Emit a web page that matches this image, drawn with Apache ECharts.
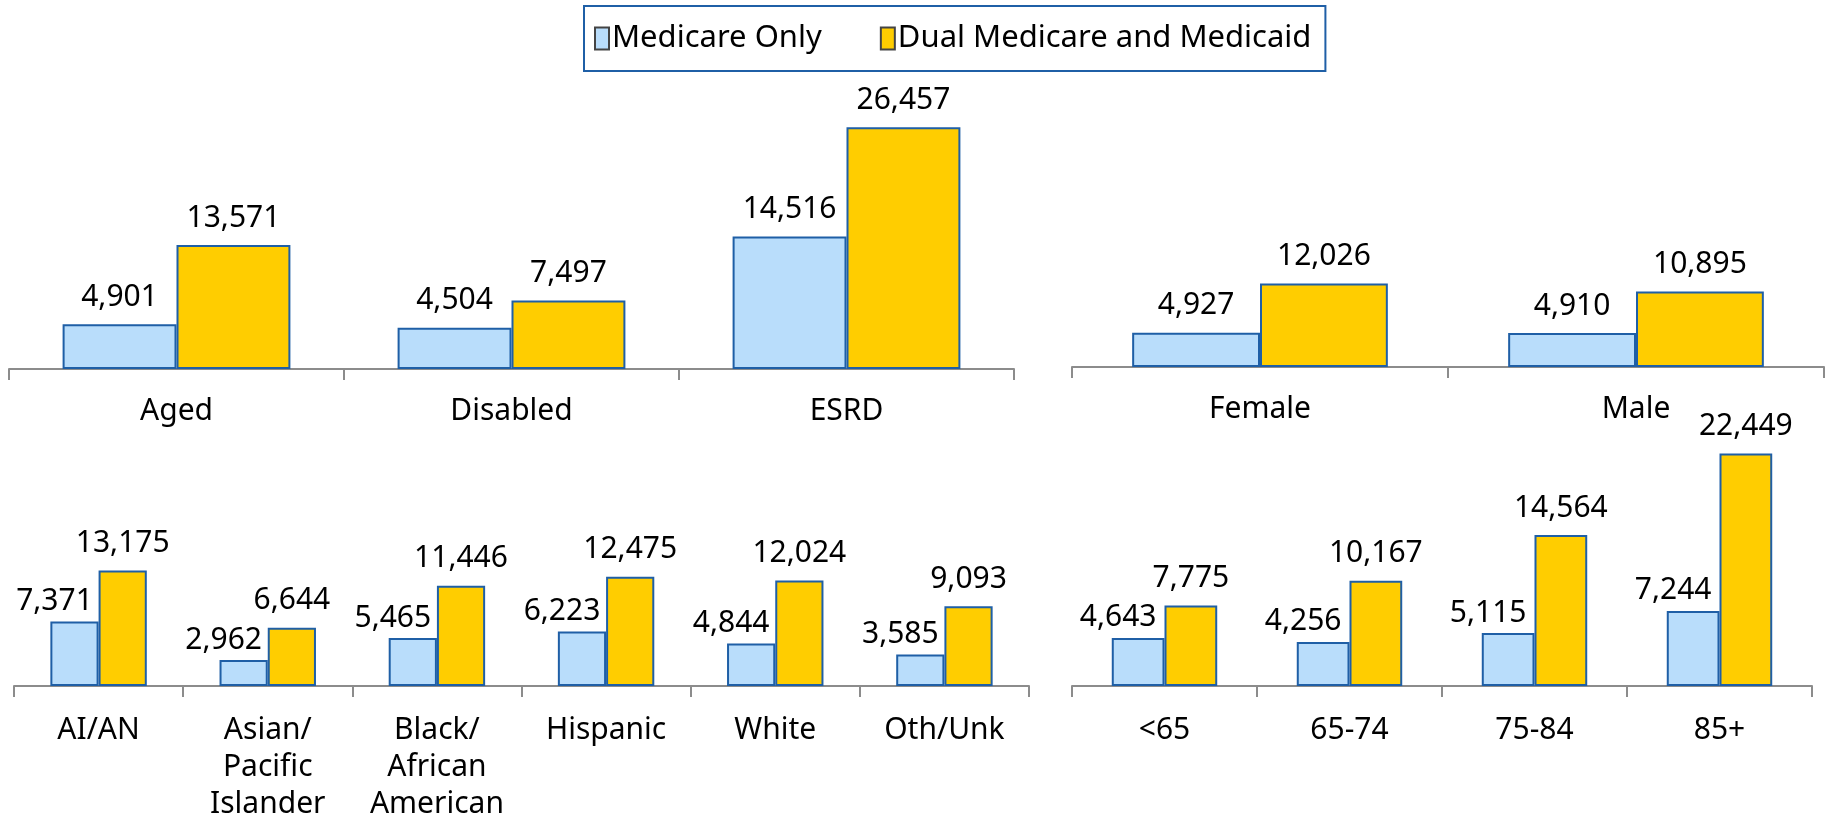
<!DOCTYPE html>
<html>
<head>
<meta charset="utf-8">
<title>Medicare vs Dual spending</title>
<script src="https://cdn.jsdelivr.net/npm/echarts@6/dist/echarts.min.js"></script>
<style>
  html, body { margin: 0; padding: 0; background: #fff; }
  #chart { width: 1827px; height: 814px; }
</style>
</head>
<body>
<div id="chart"></div>
<script>
// values
const seriesNames = ['Medicare Only', 'Dual Medicare and Medicaid'];

const groupCats = ['Aged', 'Disabled', 'ESRD'];
const groupMedicare = [4901, 4504, 14516];
const groupDual = [13571, 7497, 26457];

const sexCats = ['Female', 'Male'];
const sexMedicare = [4927, 4910];
const sexDual = [12026, 10895];

const raceCats = ['AI/AN', 'Asian/\nPacific\nIslander', 'Black/\nAfrican\nAmerican', 'Hispanic', 'White', 'Oth/Unk'];
const raceMedicare = [7371, 2962, 5465, 6223, 4844, 3585];
const raceDual = [13175, 6644, 11446, 12475, 12024, 9093];

const ageCats = ['<65', '65-74', '75-84', '85+'];
const ageMedicare = [4643, 4256, 5115, 7244];
const ageDual = [7775, 10167, 14564, 22449];

const FONT = '"Noto Sans", "Open Sans", sans-serif';
const BLUE = '#b9ddfb';
const GOLD = '#ffcd00';
const EDGE = '#1f5fa6';

// one panel = grid + x axis + y axis
const panels = [
  { cats: groupCats, med: groupMedicare, dual: groupDual, left: 9, width: 1005, top: 95, height: 274, max: 30000, gap: '32%', blueShift: 0, blueDist: 12, margin: 24 },
  { cats: sexCats, med: sexMedicare, dual: sexDual, left: 1072, width: 752, top: 159, height: 208, max: 30000, gap: '32%', blueShift: 0, blueDist: 12, margin: 24 },
  { cats: raceCats, med: raceMedicare, dual: raceDual, left: 14, width: 1015, top: 423, height: 263, max: 30000, gap: '43%', blueShift: -20, blueDist: 5, margin: 26 },
  { cats: ageCats, med: ageMedicare, dual: ageDual, left: 1072, width: 740, top: 427, height: 259, max: 25000, gap: '43%', blueShift: -20, blueDist: 5, margin: 26 }
];

const fmt = p => p.value.toLocaleString('en-US');

const grids = [];
const xAxes = [];
const yAxes = [];
const series = [];

panels.forEach((p, i) => {
  // labels run off the bottom edge in the original, so don't let the grid shrink
  grids.push({ left: p.left, top: p.top, width: p.width, height: p.height, outerBoundsMode: 'none', containLabel: false });
  xAxes.push({
    type: 'category',
    gridIndex: i,
    data: p.cats,
    axisLine: { lineStyle: { color: '#8c8c8c', width: 2 } },
    axisTick: { show: true, length: 11, lineStyle: { color: '#8c8c8c', width: 2 } },
    axisLabel: { color: '#000', fontSize: 30, fontFamily: FONT, lineHeight: 37, margin: p.margin, interval: 0 }
  });
  yAxes.push({ type: 'value', gridIndex: i, min: 0, max: p.max, show: false });

  series.push({
    name: seriesNames[0],
    type: 'bar',
    xAxisIndex: i,
    yAxisIndex: i,
    data: p.med,
    barGap: '0%',
    barCategoryGap: p.gap,
    itemStyle: { color: BLUE, borderColor: EDGE, borderWidth: 2 },
    label: {
      show: true, position: 'top', distance: p.blueDist, offset: [p.blueShift, 0],
      color: '#000', fontSize: 30, fontFamily: FONT, formatter: fmt
    }
  });
  series.push({
    name: seriesNames[1],
    type: 'bar',
    xAxisIndex: i,
    yAxisIndex: i,
    data: p.dual,
    barGap: '0%',
    barCategoryGap: p.gap,
    itemStyle: { color: GOLD, borderColor: EDGE, borderWidth: 2 },
    label: {
      show: true, position: 'top', distance: 12,
      color: '#000', fontSize: 30, fontFamily: FONT, formatter: fmt
    }
  });
});

const chart = echarts.init(document.getElementById('chart'));
chart.setOption({
  animation: false,
  backgroundColor: '#fff',
  legend: {
    data: seriesNames,
    left: 584,
    top: 6,
    padding: [17, 14, 17, 10],
    borderColor: EDGE,
    borderWidth: 2,
    itemWidth: 14,
    itemHeight: 22,
    itemGap: 58,
    icon: 'rect',
    itemStyle: { borderColor: '#444', borderWidth: 2 },
    textStyle: { color: '#000', fontSize: 31, fontFamily: FONT, padding: [0, 0, 0, -2] }
  },
  grid: grids,
  xAxis: xAxes,
  yAxis: yAxes,
  series: series
});
</script>
</body>
</html>
